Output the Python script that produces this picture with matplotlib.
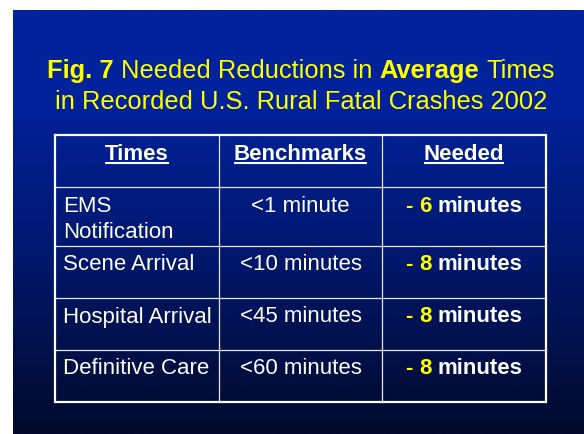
import matplotlib
matplotlib.use('Agg')
import matplotlib.pyplot as plt
import numpy as np
from matplotlib.colors import LinearSegmentedColormap

# ---- data ----
title_line1 = [("Fig. 7", "bold"), ("Needed Reductions in", "normal"),
               ("Average", "bold"), ("Times", "normal")]
title_line2 = "in Recorded U.S. Rural Fatal Crashes 2002"
headers = ["Times", "Benchmarks", "Needed"]
times = ["EMS\nNotification", "Scene Arrival", "Hospital Arrival", "Definitive Care"]
benchmarks = ["<1 minute", "<10 minutes", "<45 minutes", "<60 minutes"]
needed = [6, 8, 8, 8]

# ---- layout ----
W, H = 584, 434
FONT = 'Liberation Sans'
YELLOW = '#ffff00'
col_edges = [55, 219, 382, 546]
row_edges = [135, 187, 246, 298, 350, 402]

fig = plt.figure(figsize=(W / 100, H / 100), dpi=100)
fig.patch.set_facecolor('white')
ax = fig.add_axes([0, 0, 1, 1])
ax.axis('off')

grad = np.linspace(0, 1, 256).reshape(-1, 1)
cmap = LinearSegmentedColormap.from_list(
    'bg', [(0, '#00229a'), (0.22, '#00229a'), (0.5, '#001a78'), (1, '#000a2c')])
ax.imshow(grad, cmap=cmap, extent=[13, W, H, 10], aspect='auto', zorder=0)
ax.set_xlim(0, W)
ax.set_ylim(H, 0)

fig.canvas.draw()
renderer = fig.canvas.get_renderer()


def draw_runs(runs, xc, yb, size):
    sp = 0.278 * size * 100 / 72
    texts = []
    for s, w, c in runs:
        t = ax.text(0, yb, s, fontsize=size, fontweight=w, color=c,
                    va='baseline', ha='left', family=FONT, zorder=3)
        texts.append(t)
    widths = [t.get_window_extent(renderer).width for t in texts]
    total = sum(widths) + sp * (len(texts) - 1)
    x = xc - total / 2
    for t, w in zip(texts, widths):
        t.set_x(x)
        x += w + sp


# ---- title ----
TSIZE = 18.4
draw_runs([(s, w, YELLOW) for s, w in title_line1], 301, 78, TSIZE)
ax.text(301, 109, title_line2, fontsize=TSIZE, color=YELLOW, ha='center',
        va='baseline', family=FONT, zorder=3)

# ---- table grid ----
x0, x1 = col_edges[0], col_edges[-1]
y0, y1 = row_edges[0], row_edges[-1]
for x in col_edges[1:-1]:
    ax.plot([x, x], [y0, y1], color='#e8e8f0', lw=0.9, zorder=2)
for y in row_edges[1:-1]:
    ax.plot([x0, x1], [y, y], color='#e8e8f0', lw=0.9, zorder=2)
ax.plot([x0, x1, x1, x0, x0], [y0, y0, y1, y1, y0], color='white', lw=1.6,
        zorder=2, solid_joinstyle='miter')

col_centers = [(col_edges[i] + col_edges[i + 1]) / 2 for i in range(3)]
BASE_OFF = 24.5

# headers
for i, h in enumerate(headers):
    yb = row_edges[0] + BASE_OFF
    t = ax.text(col_centers[i], yb, h, fontsize=16, fontweight='bold',
                color='white', ha='center', va='baseline', family=FONT, zorder=3)
    bb = t.get_window_extent(renderer)
    ax.plot([bb.x0, bb.x1], [yb + 3, yb + 3], color='white', lw=1.5,
            solid_capstyle='butt', zorder=3)

# body rows
for r in range(len(times)):
    yb = row_edges[r + 1] + BASE_OFF
    for k, line in enumerate(times[r].split('\n')):
        ax.text(col_edges[0] + 8, yb + 26 * k, line, fontsize=16, color='white',
                ha='left', va='baseline', family=FONT, zorder=3)
    ax.text(col_centers[1], yb, benchmarks[r], fontsize=16, color='white',
            ha='center', va='baseline', family=FONT, zorder=3)
    draw_runs([("-", 'bold', YELLOW), (str(needed[r]), 'bold', YELLOW),
               ("minutes", 'bold', 'white')], col_centers[2], yb, 16)

fig.savefig('out.png', dpi=100, facecolor=fig.get_facecolor())
